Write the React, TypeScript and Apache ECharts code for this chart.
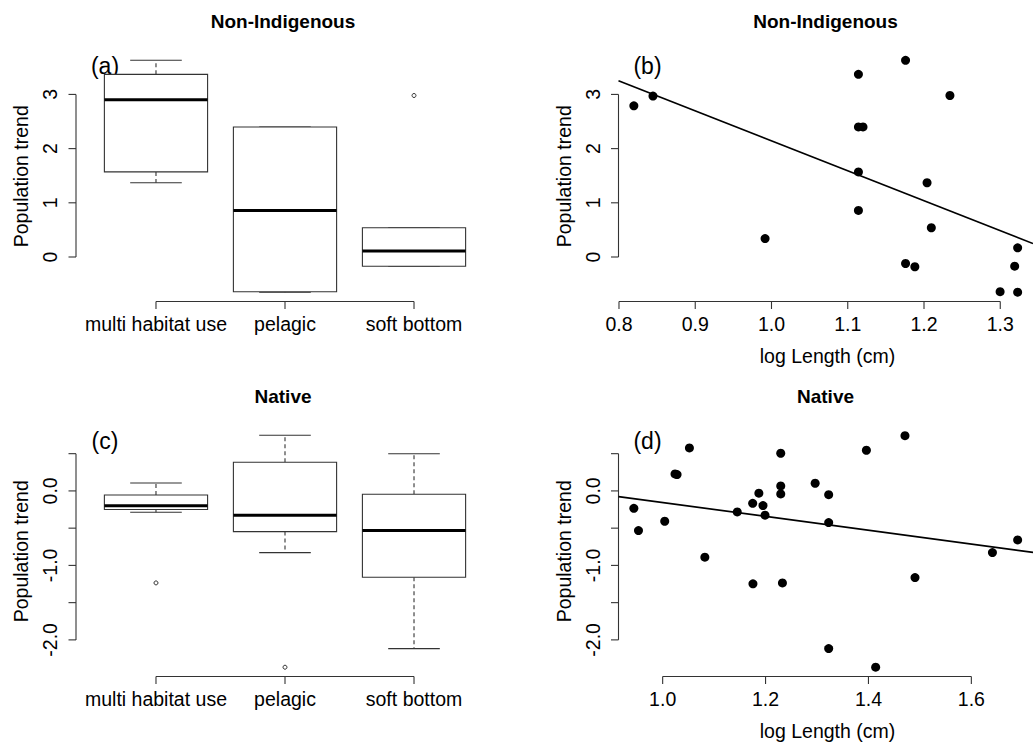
import React, { useEffect, useRef } from "react";
import * as echarts from "echarts";

// ---------------- data ----------------
const habitats = ["multi habitat use", "pelagic", "soft bottom"];
// boxplot stats per habitat: [lower whisker, Q1, median, Q3, upper whisker]
const boxNonIndigenous = [
  [1.37, 1.57, 2.9, 3.37, 3.63],
  [-0.65, -0.64, 0.86, 2.4, 2.4],
  [-0.17, -0.17, 0.11, 0.54, 0.54],
];
// outliers: [habitat position (1-based), value]
const outNonIndigenous = [[3, 2.98]];
const boxNative = [
  [-0.286, -0.25, -0.2, -0.054, 0.107],
  [-0.828, -0.546, -0.326, 0.385, 0.747],
  [-2.117, -1.159, -0.533, -0.045, 0.5],
];
const outNative = [
  [1, -1.235],
  [2, -2.367],
];

const logLengthNI = [
  0.8195, 0.8446, 0.9916, 1.114, 1.114, 1.12, 1.114, 1.114, 1.1758, 1.1758,
  1.188, 1.204, 1.2096, 1.234, 1.2998, 1.3228, 1.3189, 1.3228,
];
const trendNI = [
  2.79, 2.97, 0.34, 3.37, 2.4, 2.4, 1.57, 0.86, 3.63, -0.12, -0.18, 1.37, 0.54,
  2.98, -0.64, 0.17, -0.17, -0.65,
];
// regression line: [intercept, slope]
const fitNI = [7.674, -5.53];

const logLengthNat = [
  0.944, 0.953, 1.004, 1.024, 1.028, 1.052, 1.082, 1.145, 1.175, 1.1755, 1.187,
  1.195, 1.199, 1.2295, 1.2295, 1.2295, 1.2328, 1.2964, 1.3227, 1.3227, 1.3227,
  1.396, 1.414, 1.471, 1.4905, 1.641, 1.69,
];
const trendNat = [
  -0.233, -0.533, -0.407, 0.228, 0.219, 0.577, -0.89, -0.282, -0.166, -1.248,
  -0.031, -0.197, -0.326, 0.506, 0.067, -0.04, -1.235, 0.103, -0.05, -0.425,
  -2.117, 0.546, -2.367, 0.742, -1.164, -0.828, -0.658,
];
const fitNat = [0.773, -0.929];

const catTicks = [1, 2, 3];
const yTicksNI = [0, 1, 2, 3];
const yTickLabelsNI = ["0", "1", "2", "3"];
const yTicksNat = [-2, -1.5, -1, -0.5, 0, 0.5];
const yTickLabelsNat = ["-2.0", "", "-1.0", "", "0.0", ""];
const xTicksNI = [0.8, 0.9, 1.0, 1.1, 1.2, 1.3];
const xTickLabelsNI = ["0.8", "0.9", "1.0", "1.1", "1.2", "1.3"];
const xTicksNat = [1.0, 1.2, 1.4, 1.6];
const xTickLabelsNat = ["1.0", "1.2", "1.4", "1.6"];

// ---------------- layout ----------------
const GRID_W = 418;
const GRID_H = 250.5;
const COL_L = 76;
const COL_R = 618.5;
const ROW_T = 51;
const ROW_B = 426;
const FONT = '"Liberation Sans", Arial, Helvetica, sans-serif';
const AXIS_FS = 19.5;
const LINE_C = "#333";

// R-style 4% axis extension
function ext(lo: number, hi: number): [number, number] {
  const d = (hi - lo) * 0.04;
  return [lo - d, hi + d];
}
function rangeOf(arrs: number[][]): [number, number] {
  const all = arrs.flat();
  return [Math.min(...all), Math.max(...all)];
}

const catRange = ext(0.5, 3.5);
const yRangeNI = ext(
  ...rangeOf([boxNonIndigenous.flat(), outNonIndigenous.map((o) => o[1]), trendNI])
);
const yRangeNat = ext(
  ...rangeOf([boxNative.flat(), outNative.map((o) => o[1]), trendNat])
);
const xRangeNI = ext(...rangeOf([logLengthNI]));
const xRangeNat = ext(...rangeOf([logLengthNat]));

function axesSeries(
  gi: number,
  xr: number[],
  yr: number[],
  xTicks: number[],
  xLabels: string[],
  yTicks: number[],
  yLabels: string[]
) {
  return {
    type: "custom",
    xAxisIndex: gi,
    yAxisIndex: gi,
    silent: true,
    clip: false,
    z: 1,
    data: [[xr[0], yr[0]]],
    renderItem: (_p: any, api: any) => {
      const ch: any[] = [];
      const st = { stroke: LINE_C, lineWidth: 1.1 };
      const a0 = api.coord([xTicks[0], yr[0]]);
      const a1 = api.coord([xTicks[xTicks.length - 1], yr[0]]);
      ch.push({ type: "line", shape: { x1: a0[0], y1: a0[1], x2: a1[0], y2: a1[1] }, style: st });
      xTicks.forEach((t, i) => {
        const p = api.coord([t, yr[0]]);
        ch.push({ type: "line", shape: { x1: p[0], y1: p[1], x2: p[0], y2: p[1] + 7.5 }, style: st });
        if (xLabels[i])
          ch.push({
            type: "text",
            x: p[0],
            y: p[1] + 22.5,
            style: {
              text: xLabels[i],
              fill: "#000",
              fontSize: AXIS_FS,
              fontFamily: FONT,
              align: "center",
              verticalAlign: "middle",
              textAlign: "center",
              textVerticalAlign: "middle",
            },
          });
      });
      const b0 = api.coord([xr[0], yTicks[0]]);
      const b1 = api.coord([xr[0], yTicks[yTicks.length - 1]]);
      ch.push({ type: "line", shape: { x1: b0[0], y1: b0[1], x2: b1[0], y2: b1[1] }, style: st });
      yTicks.forEach((t, i) => {
        const p = api.coord([xr[0], t]);
        ch.push({ type: "line", shape: { x1: p[0], y1: p[1], x2: p[0] - 7.5, y2: p[1] }, style: st });
        if (yLabels[i])
          ch.push({
            type: "text",
            x: p[0] - 26,
            y: p[1],
            rotation: Math.PI / 2,
            style: {
              text: yLabels[i],
              fill: "#000",
              fontSize: AXIS_FS,
              fontFamily: FONT,
              align: "center",
              verticalAlign: "middle",
              textAlign: "center",
              textVerticalAlign: "middle",
            },
          });
      });
      return { type: "group", children: ch };
    },
  };
}

function boxSeries(gi: number, stats: number[][]) {
  return {
    type: "custom",
    xAxisIndex: gi,
    yAxisIndex: gi,
    silent: true,
    clip: false,
    z: 2,
    data: stats.map((s, i) => [catTicks[i], ...s]),
    encode: { x: 0, y: [1, 2, 3, 4, 5] },
    renderItem: (_p: any, api: any) => {
      const c = api.value(0);
      const lo = api.value(1);
      const q1 = api.value(2);
      const md = api.value(3);
      const q3 = api.value(4);
      const hi = api.value(5);
      const tl = api.coord([c - 0.4, q3]);
      const br = api.coord([c + 0.4, q1]);
      const m0 = api.coord([c - 0.4, md]);
      const m1 = api.coord([c + 0.4, md]);
      const pHi = api.coord([c, hi]);
      const pLo = api.coord([c, lo]);
      const s0 = api.coord([c - 0.2, hi]);
      const s1 = api.coord([c + 0.2, hi]);
      const u0 = api.coord([c - 0.2, lo]);
      const u1 = api.coord([c + 0.2, lo]);
      const st = { stroke: LINE_C, lineWidth: 1.1, fill: "none" };
      const dash = { stroke: LINE_C, lineWidth: 1.1, lineDash: [4, 3] };
      return {
        type: "group",
        children: [
          { type: "line", shape: { x1: pHi[0], y1: tl[1], x2: pHi[0], y2: pHi[1] }, style: dash },
          { type: "line", shape: { x1: pLo[0], y1: br[1], x2: pLo[0], y2: pLo[1] }, style: dash },
          { type: "line", shape: { x1: s0[0], y1: s0[1], x2: s1[0], y2: s1[1] }, style: st },
          { type: "line", shape: { x1: u0[0], y1: u0[1], x2: u1[0], y2: u1[1] }, style: st },
          {
            type: "rect",
            shape: { x: tl[0], y: tl[1], width: br[0] - tl[0], height: br[1] - tl[1] },
            style: { stroke: LINE_C, lineWidth: 1.1, fill: "#fff" },
          },
          { type: "line", shape: { x1: m0[0], y1: m0[1], x2: m1[0], y2: m1[1] }, style: { stroke: "#000", lineWidth: 3 } },
        ],
      };
    },
  };
}

function outlierSeries(gi: number, outs: number[][]) {
  return {
    type: "scatter",
    xAxisIndex: gi,
    yAxisIndex: gi,
    silent: true,
    z: 3,
    data: outs,
    symbol: "circle",
    symbolSize: 4,
    itemStyle: { color: "#fff", borderColor: "#333", borderWidth: 1, opacity: 1 },
  };
}

function pointsSeries(gi: number, xs: number[], ys: number[]) {
  return {
    type: "scatter",
    xAxisIndex: gi,
    yAxisIndex: gi,
    silent: true,
    z: 3,
    data: xs.map((x, i) => [x, ys[i]]),
    symbol: "circle",
    symbolSize: 9,
    itemStyle: { color: "#000", opacity: 1 },
  };
}

function fitSeries(gi: number, xr: number[], fit: number[]) {
  return {
    type: "line",
    xAxisIndex: gi,
    yAxisIndex: gi,
    silent: true,
    clip: true,
    z: 2,
    symbol: "none",
    data: xr.map((x) => [x, fit[0] + fit[1] * x]),
    lineStyle: { color: "#000", width: 1.7 },
  };
}

const grids = [
  { left: COL_L, top: ROW_T },
  { left: COL_R, top: ROW_T },
  { left: COL_L, top: ROW_B },
  { left: COL_R, top: ROW_B },
];
const xRanges = [catRange, xRangeNI, catRange, xRangeNat];
const yRanges = [yRangeNI, yRangeNI, yRangeNat, yRangeNat];
const titles = ["Non-Indigenous", "Non-Indigenous", "Native", "Native"];
const tags = ["(a)", "(b)", "(c)", "(d)"];

function textEl(text: string, x: number, y: number, fs: number, extra: any = {}) {
  return {
    type: "text",
    x,
    y,
    rotation: extra.rotation || 0,
    style: {
      text,
      fill: "#000",
      fontSize: fs,
      fontFamily: FONT,
      fontWeight: extra.fontWeight || "normal",
      align: "center",
      verticalAlign: "middle",
      textAlign: "center",
      textVerticalAlign: "middle",
    },
  };
}

const graphics: any[] = [];
grids.forEach((g, i) => {
  const cx = g.left + GRID_W / 2;
  graphics.push(textEl(titles[i], cx - 2, g.top - 29.5, 19, { fontWeight: "bold" }));
  graphics.push(textEl(tags[i], g.left + 29, g.top + 14.5, 23));
  graphics.push(
    textEl("Population trend", g.left - 55, g.top + GRID_H / 2, AXIS_FS, { rotation: Math.PI / 2 })
  );
  if (i === 1 || i === 3) graphics.push(textEl("log Length (cm)", cx, g.top + GRID_H + 54, AXIS_FS));
});

const option: any = {
  animation: false,
  backgroundColor: "#fff",
  grid: grids.map((g) => ({ left: g.left, top: g.top, width: GRID_W, height: GRID_H, containLabel: false })),
  xAxis: xRanges.map((r, i) => ({ type: "value", gridIndex: i, min: r[0], max: r[1], show: false })),
  yAxis: yRanges.map((r, i) => ({ type: "value", gridIndex: i, min: r[0], max: r[1], show: false })),
  graphic: graphics,
  series: [
    axesSeries(0, catRange, yRangeNI, catTicks, habitats, yTicksNI, yTickLabelsNI),
    axesSeries(1, xRangeNI, yRangeNI, xTicksNI, xTickLabelsNI, yTicksNI, yTickLabelsNI),
    axesSeries(2, catRange, yRangeNat, catTicks, habitats, yTicksNat, yTickLabelsNat),
    axesSeries(3, xRangeNat, yRangeNat, xTicksNat, xTickLabelsNat, yTicksNat, yTickLabelsNat),
    boxSeries(0, boxNonIndigenous),
    outlierSeries(0, outNonIndigenous),
    boxSeries(2, boxNative),
    outlierSeries(2, outNative),
    fitSeries(1, xRangeNI, fitNI),
    pointsSeries(1, logLengthNI, trendNI),
    fitSeries(3, xRangeNat, fitNat),
    pointsSeries(3, logLengthNat, trendNat),
  ],
};

export default function App() {
  const ref = useRef<HTMLDivElement>(null);
  useEffect(() => {
    if (!ref.current) return;
    const chart = echarts.init(ref.current, null, { renderer: "svg" });
    chart.setOption(option);
    return () => chart.dispose();
  }, []);
  return (
    <div
      ref={ref}
      style={{ position: "absolute", left: 0, top: 0, width: 1033, height: 742, background: "#fff" }}
    />
  );
}
